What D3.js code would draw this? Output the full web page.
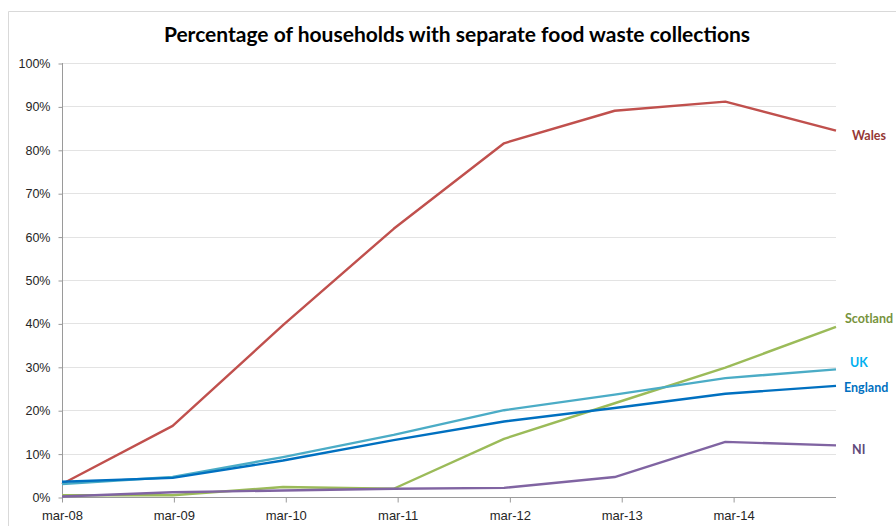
<!DOCTYPE html>
<html>
<head>
<meta charset="utf-8">
<script src="https://cdn.jsdelivr.net/npm/d3@7"></script>
<style>
  body { margin: 0; background: #fff; }
  svg { display: block; font-family: Lato, "Open Sans", sans-serif; }
</style>
</head>
<body>
<svg id="chart" width="896" height="526"></svg>
<script>
// data
let dates = ["2008-03-01", "2009-02-25", "2010-02-20", "2011-02-16", "2012-02-11", "2013-02-06", "2014-02-02", "2015-01-29"];
let tickDates = ["2008-03-01", "2009-03-01", "2010-03-01", "2011-03-01", "2012-03-01", "2013-03-01", "2014-03-01"];
let tickLabels = ["mar-08", "mar-09", "mar-10", "mar-11", "mar-12", "mar-13", "mar-14"];
let seriesNames = ["Wales", "Scotland", "UK", "England", "NI"];
let wales    = [3.0, 16.4, 39.6, 61.8, 81.5, 89.0, 91.1, 84.4];
let scotland = [0.4, 0.4, 2.3, 1.9, 13.4, 21.6, 29.8, 39.2];
let uk       = [3.0, 4.6, 9.2, 14.3, 20.0, 23.6, 27.4, 29.4];
let england  = [3.5, 4.4, 8.4, 13.1, 17.4, 20.5, 23.8, 25.6];
let ni       = [0.1, 1.1, 1.5, 1.9, 2.1, 4.6, 12.7, 11.9];
let labelAt  = [83.2, 41.0, 31.0, 25.3, 11.0];   // label heights, in %

let lineColors  = ["#c0504d", "#9bbb59", "#4bacc6", "#0070c0", "#8064a2"];
let labelColors = ["#953735", "#77933c", "#00b0f0", "#0070c0", "#604a7b"];

let width = 896, height = 526;
let plotLeft = 62, plotRight = 836, plotTop = 63, plotBottom = 497;

let parse = d3.timeParse("%Y-%m-%d");
let svg = d3.select("#chart");

// outer frame (only left and top edges visible)
svg.append("path")
	.attr("d", "M8.5," + height + "V11.5H" + width)
	.attr("fill", "none")
	.attr("stroke", "#d9d9d9");

let x = d3.scaleTime()
	.domain([parse(dates[0]), parse(dates[dates.length - 1])])
	.range([plotLeft, plotRight]);

let y = d3.scaleLinear()
	.domain([0, 100])
	.range([plotBottom, plotTop]);

// gridlines
svg.append("g")
	.selectAll("line")
	.data(d3.range(10, 101, 10))
	.enter().append("line")
	.attr("x1", plotLeft)
	.attr("x2", plotRight)
	.attr("y1", function(d) { return Math.round(y(d)) + 0.5; })
	.attr("y2", function(d) { return Math.round(y(d)) + 0.5; })
	.attr("stroke", "#e3e3e3")
	.attr("stroke-width", 1);

// y axis
let yAxis = svg.append("g")
	.attr("transform", "translate(" + (plotLeft + 0.5) + ",0.5)")
	.call(d3.axisLeft(y).tickValues(d3.range(0, 101, 10)).tickSize(4).tickPadding(8)
		.tickFormat(function(d) { return d + "%"; }));
yAxis.select(".domain").attr("stroke", "#9a9a9a").attr("d", "M0," + (y(0) - 0.5) + "V" + (plotTop - 0.5));
yAxis.selectAll(".tick line").attr("stroke", "#9a9a9a");
yAxis.selectAll("text")
	.attr("fill", "#262626")
	.style("font-size", "12.5px");

// x axis
let xAxis = svg.append("g")
	.attr("transform", "translate(0," + (plotBottom + 0.5) + ")")
	.call(d3.axisBottom(x).tickValues(tickDates.map(parse)).tickSize(5).tickPadding(8)
		.tickFormat(function(d, i) { return tickLabels[i]; }));
xAxis.select(".domain").attr("stroke", "#9a9a9a").attr("d", "M" + plotLeft + ",0H" + plotRight);
xAxis.selectAll(".tick line").attr("stroke", "#9a9a9a");
xAxis.selectAll("text")
	.attr("fill", "#262626")
	.style("font-size", "13px");

// lines
let allSeries = [wales, scotland, uk, england, ni];
let line = d3.line()
	.x(function(d, i) { return x(parse(dates[i])); })
	.y(function(d) { return y(d); });

svg.append("g")
	.selectAll("path")
	.data(allSeries)
	.enter().append("path")
	.attr("d", line)
	.attr("fill", "none")
	.attr("stroke", function(d, i) { return lineColors[i]; })
	.attr("stroke-width", 2.4)
	.attr("stroke-linejoin", "round");

// series labels
let labelX = [852, 845, 850, 844, 852];
svg.append("g")
	.selectAll("text")
	.data(seriesNames)
	.enter().append("text")
	.attr("x", function(d, i) { return labelX[i]; })
	.attr("y", function(d, i) { return y(labelAt[i]); })
	.attr("dy", "0.35em")
	.attr("fill", function(d, i) { return labelColors[i]; })
	.style("font-size", "12.5px")
	.style("font-weight", "bold")
	.text(function(d) { return d; });

// title
svg.append("text")
	.attr("x", 457)
	.attr("y", 42)
	.style("text-anchor", "middle")
	.style("font-weight", "bold")
	.style("font-size", "21px")
	.attr("fill", "#000")
	.text("Percentage of households with separate food waste collections");
</script>
</body>
</html>
